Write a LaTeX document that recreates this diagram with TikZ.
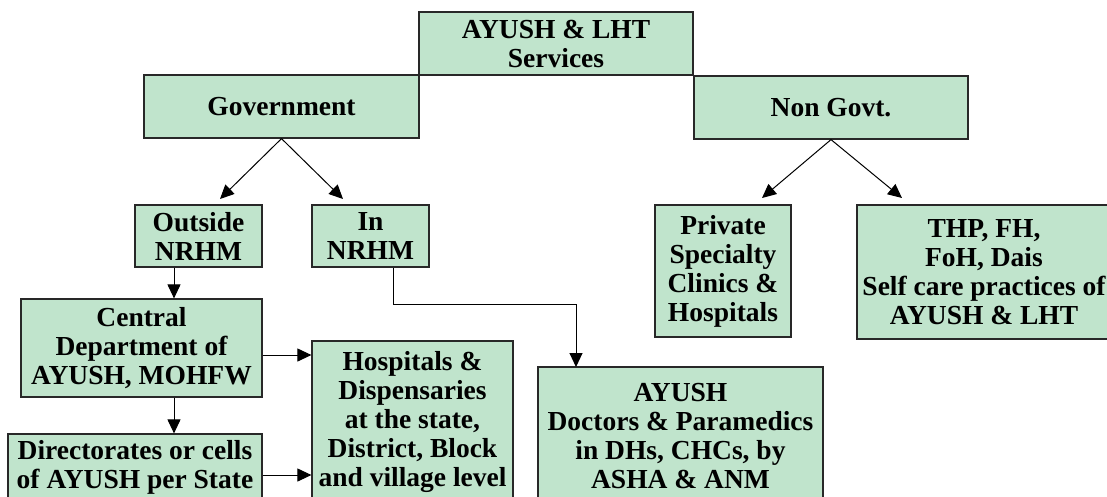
\documentclass[tikz,border=0pt]{standalone}
\usepackage{fontspec}
\setmainfont{Liberation Serif}
\usetikzlibrary{arrows.meta}
\definecolor{boxgreen}{RGB}{192,228,204}
\definecolor{boxline}{RGB}{40,40,40}
\tikzset{
  box/.style={draw=boxline, fill=boxgreen, line width=1.2pt, align=center,
    inner sep=0pt, font=\fontsize{27.5}{29}\selectfont\rmfamily\bfseries},
  arr/.style={draw=black, line width=1pt, -{Triangle[length=14pt,width=13pt]}},
  plain/.style={draw=black, line width=1pt}
}
\begin{document}
\begin{tikzpicture}[x=1pt,y=-1pt]
\useasboundingbox (0,0) rectangle (1107,496);
\clip (0,0) rectangle (1107,496);
% nodes
\node[box, minimum width=274pt, minimum height=63pt] (top) at (556,43.5) {AYUSH \& LHT\\Services};
\node[box, minimum width=275pt, minimum height=63pt] (gov) at (281.5,106.5) {Government};
\node[box, minimum width=274pt, minimum height=63pt] (ngo) at (831,107.5) {Non Govt.};
\node[box, minimum width=127pt, minimum height=62pt] (outside) at (198.5,236) {Outside\\NRHM};
\node[box, minimum width=117pt, minimum height=62pt] (in) at (370.5,236) {In\\NRHM};
\node[box, minimum width=136pt, minimum height=132pt] (private) at (723,271) {Private\\Specialty\\Clinics \&\\Hospitals};
\node[box, minimum width=254pt, minimum height=134pt] (thp) at (984,272) {THP, FH,\\FoH, Dais\\Self care practices of\\AYUSH \& LHT};
\node[box, minimum width=241pt, minimum height=98pt] (central) at (141.5,348) {Central\\Department of\\AYUSH, MOHFW};
\node[box, minimum width=254pt, minimum height=67pt] (dir) at (135,467.5) {Directorates or cells\\of AYUSH per State};
\node[box, minimum width=201pt, minimum height=162pt] (hosp) at (412.5,422) {Hospitals \&\\Dispensaries\\at the state,\\District, Block\\and village level};
\node[box, minimum width=285pt, minimum height=138pt] (doc) at (680.5,436) {AYUSH\\Doctors \& Paramedics\\in DHs, CHCs, by\\ASHA \& ANM};
% free ends
\coordinate (g1) at (220,199);
\coordinate (g2) at (343,199);
\coordinate (n1) at (762,198);
\coordinate (n2) at (902,198);
\coordinate (v1) at (174,0);
\coordinate (d1) at (576,367);
% connectors
\draw[arr] (gov.south) -- (g1);
\draw[arr] (gov.south) -- (g2);
\draw[arr] (ngo.south) -- (n1);
\draw[arr] (ngo.south) -- (n2);
\draw[arr] (outside.south -| v1) -- (central.north -| v1);
\draw[arr] (central.south -| v1) -- (dir.north -| v1);
\draw[arr] ([yshift=-7pt]central.east) -- ([yshift=-7pt]central.east -| hosp.west);
\draw[arr] ([yshift=-7.5pt]dir.east) -- ([yshift=-7.5pt]dir.east -| hosp.west);
\draw[arr] ([xshift=22.5pt]in.south) -- ++(0,37) -| (d1);
\end{tikzpicture}
\end{document}
